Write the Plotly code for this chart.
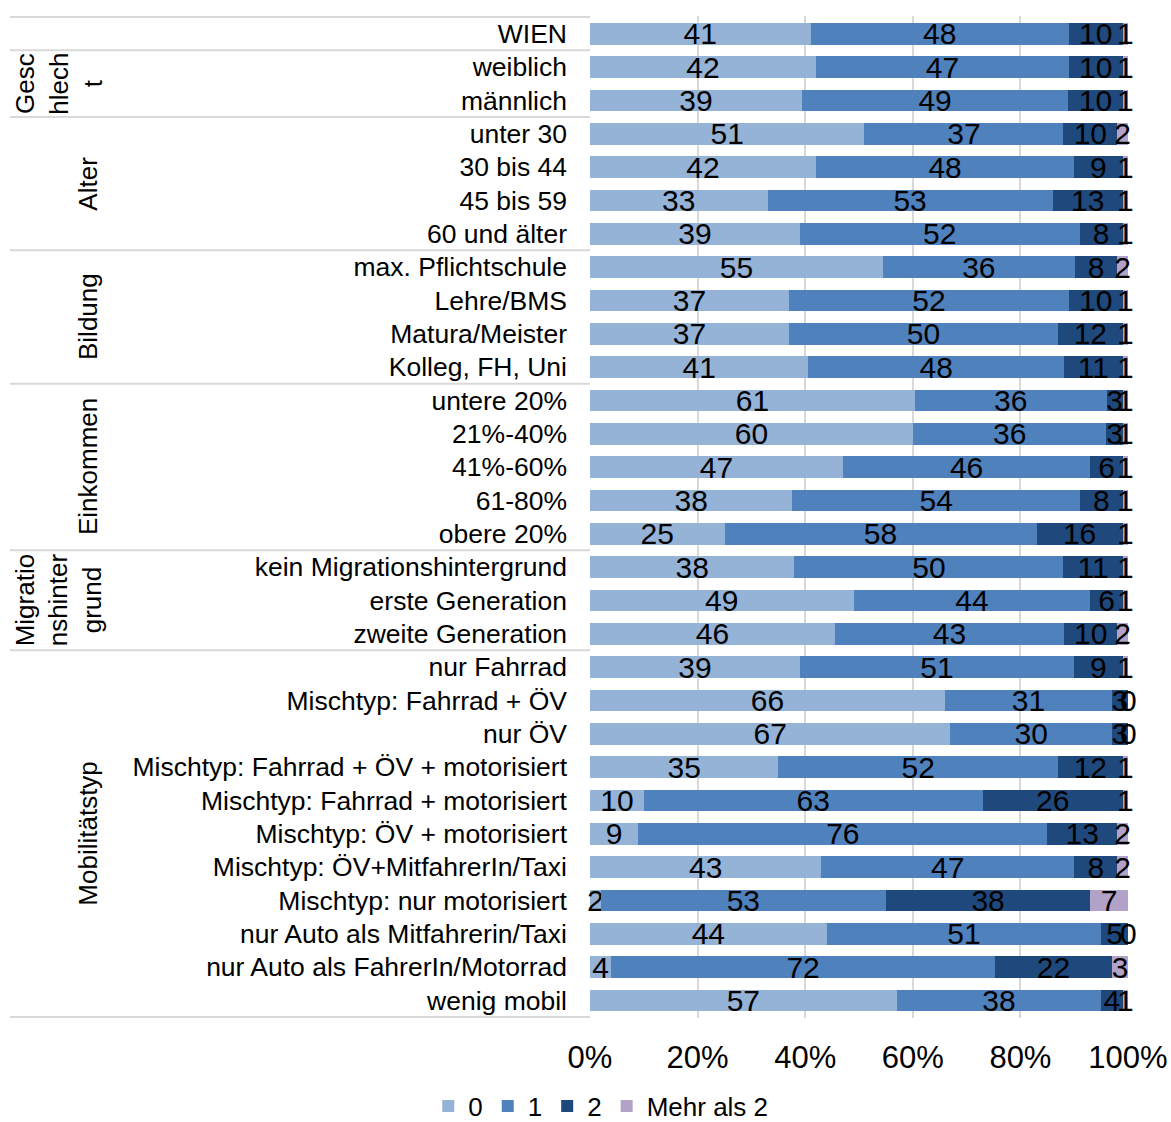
import plotly.graph_objects as go

# Categories (top to bottom)
categories = [
    "WIEN",
    "weiblich", "männlich",
    "unter 30", "30 bis 44", "45 bis 59", "60 und älter",
    "max. Pflichtschule", "Lehre/BMS", "Matura/Meister", "Kolleg, FH, Uni",
    "untere 20%", "21%-40%", "41%-60%", "61-80%", "obere 20%",
    "kein Migrationshintergrund", "erste Generation", "zweite Generation",
    "nur Fahrrad", "Mischtyp: Fahrrad + ÖV", "nur ÖV",
    "Mischtyp: Fahrrad + ÖV + motorisiert", "Mischtyp: Fahrrad + motorisiert",
    "Mischtyp: ÖV + motorisiert", "Mischtyp: ÖV+MitfahrerIn/Taxi",
    "Mischtyp: nur motorisiert", "nur Auto als Mitfahrerin/Taxi",
    "nur Auto als FahrerIn/Motorrad", "wenig mobil",
]

# Share of respondents (%) per number of cars in household
vals_0 = [41, 42, 39, 51, 42, 33, 39, 55, 37, 37, 41, 61, 60, 47, 38, 25,
          38, 49, 46, 39, 66, 67, 35, 10, 9, 43, 2, 44, 4, 57]
vals_1 = [48, 47, 49, 37, 48, 53, 52, 36, 52, 50, 48, 36, 36, 46, 54, 58,
          50, 44, 43, 51, 31, 30, 52, 63, 76, 47, 53, 51, 72, 38]
vals_2 = [10, 10, 10, 10, 9, 13, 8, 8, 10, 12, 11, 3, 3, 6, 8, 16,
          11, 6, 10, 9, 3, 3, 12, 26, 13, 8, 38, 5, 22, 4]
vals_3 = [1, 1, 1, 2, 1, 1, 1, 2, 1, 1, 1, 1, 1, 1, 1, 1,
          1, 1, 2, 1, 0, 0, 1, 1, 2, 2, 7, 0, 3, 1]

series_names = ["0", "1", "2", "Mehr als 2"]
series_values = [vals_0, vals_1, vals_2, vals_3]
series_colors = ["#95B3D7", "#4F81BD", "#1F497D", "#B3A2C7"]

# Group labels: (text, first row, last row)
groups = [
    ("Gesc<br>hlech<br>t", 1, 2),
    ("Alter", 3, 6),
    ("Bildung", 7, 10),
    ("Einkommen", 11, 15),
    ("Migratio<br>nshinter<br>grund", 16, 18),
    ("Mobilitätstyp", 19, 29),
]
group_label_px = [59, 88, 88, 88, 59, 88]

FONT = "Liberation Sans, Arial, sans-serif"
PLOT_LEFT, PLOT_RIGHT = 590, 1128
PLOT_TOP, PLOT_BOTTOM = 16, 1018
PLOT_W = PLOT_RIGHT - PLOT_LEFT
PLOT_H = PLOT_BOTTOM - PLOT_TOP
NUM_FONT = dict(family=FONT, size=30, color="black")

fig = go.Figure()
for name, vals, color in zip(series_names, series_values, series_colors):
    fig.add_trace(go.Bar(
        name=name,
        y=categories,
        x=vals,
        orientation="h",
        marker=dict(color=color, line=dict(width=0)),
        text=[str(v) if v > 0 else "" for v in vals],
        textposition="inside",
        insidetextanchor="middle",
        textangle=0,
        constraintext="none",
        textfont=NUM_FONT,
        cliponaxis=False,
        hoverinfo="skip",
    ))

annotations = []

# zero-width segments still carry a "0" label at their (normalised) position
totals = [sum(s[i] for s in series_values) for i in range(len(categories))]
for k, vals in enumerate(series_values):
    for i, v in enumerate(vals):
        if v == 0:
            start = sum(series_values[j][i] for j in range(k))
            annotations.append(dict(
                text="0", xref="x", yref="y",
                x=100 * start / totals[i], y=categories[i],
                showarrow=False, xanchor="center", yanchor="middle",
                font=NUM_FONT,
            ))

shapes = []
# separator lines in the label area
boundaries = [-0.5, 0.5] + [g[2] + 0.5 for g in groups]
for b in boundaries:
    shapes.append(dict(
        type="line", xref="paper", yref="y",
        x0=(10 - PLOT_LEFT) / PLOT_W, x1=0, y0=b, y1=b,
        line=dict(color="#D9D9D9", width=2), layer="below",
    ))

for (label, r0, r1), px in zip(groups, group_label_px):
    annotations.append(dict(
        text=label, xref="paper", yref="y",
        x=(px - PLOT_LEFT) / PLOT_W, y=(r0 + r1) / 2,
        textangle=-90, showarrow=False, align="center",
        xanchor="center", yanchor="middle",
        font=dict(family=FONT, size=26, color="black"),
    ))

fig.update_layout(
    barmode="stack",
    barnorm="percent",
    bargap=0.35,
    width=1171, height=1122,
    margin=dict(l=PLOT_LEFT, r=1171 - PLOT_RIGHT, t=PLOT_TOP,
                b=1122 - PLOT_BOTTOM, autoexpand=False),
    paper_bgcolor="white", plot_bgcolor="white",
    font=dict(family=FONT, size=26, color="black"),
    shapes=shapes,
    annotations=annotations,
    legend=dict(
        orientation="h", x=0.02, xanchor="center",
        y=(PLOT_BOTTOM - 1106) / PLOT_H, yanchor="middle",
        font=dict(family=FONT, size=26, color="black"),
        traceorder="normal", itemclick=False,
    ),
    xaxis=dict(
        range=[0, 100], dtick=20, ticksuffix="%",
        showgrid=True, gridcolor="#D9D9D9", gridwidth=2,
        zeroline=False, showline=False,
        tickfont=dict(family=FONT, size=31, color="black"),
        ticks="", ticklabelstandoff=18,
    ),
    yaxis=dict(
        categoryorder="array", categoryarray=categories,
        autorange="reversed",
        showgrid=False, zeroline=False, showline=False,
        tickfont=dict(family=FONT, size=26.5, color="black"),
        ticks="", ticklabelstandoff=22,
    ),
)

fig.write_html("out.html")
